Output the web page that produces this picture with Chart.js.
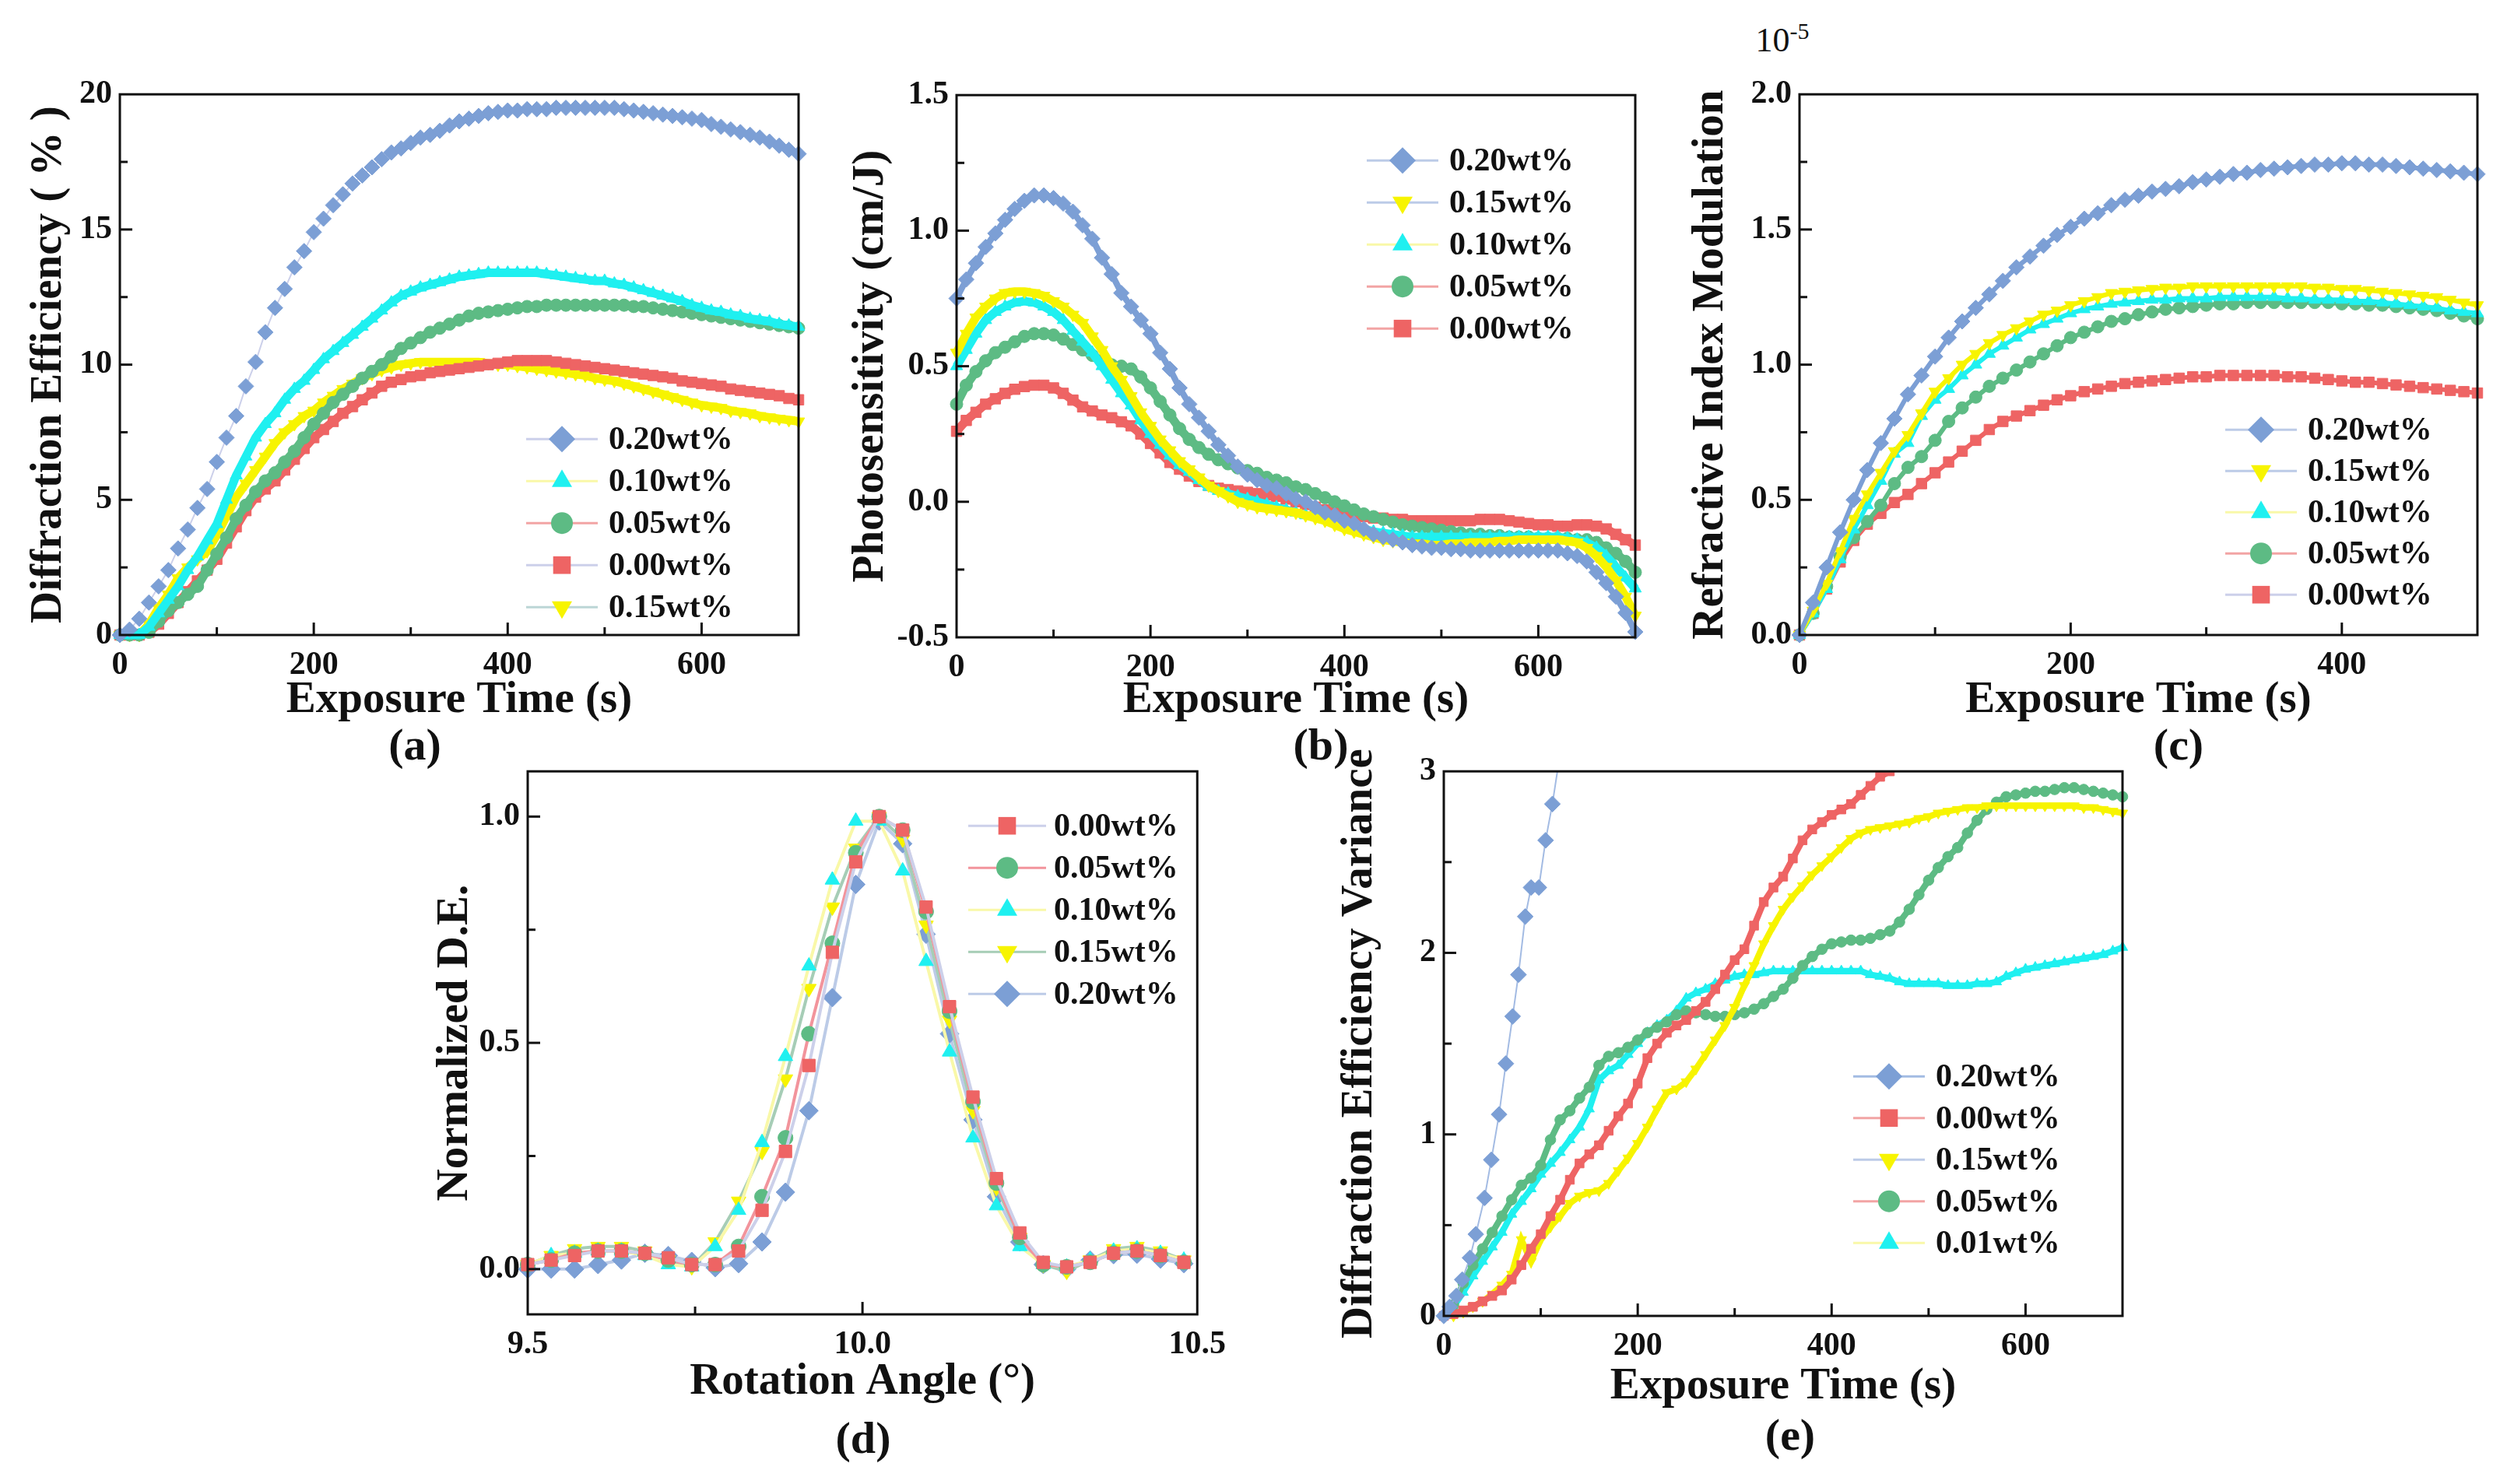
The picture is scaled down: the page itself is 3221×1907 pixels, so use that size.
<!DOCTYPE html>
<html>
<head>
<meta charset="utf-8">
<script src="https://cdn.jsdelivr.net/npm/chart.js@4.4.1/dist/chart.umd.min.js"></script>
<style>
  html, body { margin: 0; padding: 0; background: #fff; }
  #page { position: relative; width: 3221px; height: 1907px; overflow: hidden; background: #fff;
          font-family: 'Liberation Serif', serif; font-weight: bold; color: #111; }
  #page canvas { position: absolute; }
  .tag { position: absolute; font-size: 58px; transform: translate(-50%, -50%); white-space: nowrap; }
  .exp { position: absolute; font-size: 44px; font-weight: normal; transform: translate(-50%, -50%); white-space: nowrap; }
  .exp sup { font-size: 30px; }
</style>
</head>
<body>
<div id="page">
  <div class="tag" style="left:533px;top:956px">(a)</div>
  <div class="tag" style="left:1697px;top:956px">(b)</div>
  <div class="tag" style="left:2799px;top:956px">(c)</div>
  <div class="tag" style="left:1109px;top:1847px">(d)</div>
  <div class="tag" style="left:2300px;top:1843px">(e)</div>
  <div class="exp" style="left:2290px;top:50px">10<sup>-5</sup></div>
</div>
<script>
// sampling times (s)
const T10 = [0,10,20,30,40,50,60,70,80,90,100,110,120,130,140,150,160,170,180,190,
  200,210,220,230,240,250,260,270,280,290,300,310,320,330,340,350,360,370,380,390,
  400,410,420,430,440,450,460,470,480,490,500,510,520,530,540,550,560,570,580,590,
  600,610,620,630,640,650,660,670,680,690,700];

// (a) diffraction efficiency (%)
const a20 = [0,0.2,0.6,1.2,1.8,2.4,3.2,3.9,4.7,5.4,
  6.4,7.3,8.1,9.2,10.1,11.2,12.1,12.8,13.6,14.2,
  14.9,15.4,15.9,16.3,16.7,17.0,17.3,17.6,17.85,18.0,
  18.2,18.4,18.5,18.65,18.85,19.0,19.1,19.2,19.3,19.35,
  19.4,19.4,19.45,19.45,19.45,19.5,19.5,19.5,19.5,19.5,
  19.5,19.5,19.45,19.4,19.35,19.3,19.25,19.2,19.15,19.1,
  19.05,18.9,18.8,18.7,18.6,18.5,18.4,18.25,18.1,17.95,17.8];
const a10 = [0,0,0,0.3,0.8,1.3,1.8,2.4,2.9,3.5,
  4.1,5.0,5.9,6.6,7.3,7.8,8.2,8.7,9.1,9.4,
  9.8,10.2,10.5,10.8,11.1,11.4,11.7,12.0,12.3,12.55,
  12.7,12.85,12.95,13.05,13.15,13.25,13.3,13.35,13.4,13.4,
  13.4,13.4,13.4,13.4,13.35,13.3,13.25,13.2,13.15,13.1,
  13.1,13.0,12.95,12.85,12.75,12.65,12.55,12.45,12.35,12.2,
  12.1,12.0,11.95,11.85,11.8,11.7,11.65,11.6,11.5,11.45,11.4];
const a05 = [0,0,0,0.1,0.5,0.9,1.2,1.5,1.8,2.4,
  3.0,3.6,4.3,4.8,5.3,5.7,6.0,6.4,6.8,7.3,
  7.8,8.2,8.6,8.9,9.2,9.5,9.75,10.0,10.3,10.6,
  10.8,11.0,11.2,11.35,11.5,11.65,11.8,11.9,11.95,12.0,
  12.05,12.1,12.15,12.15,12.2,12.2,12.2,12.2,12.2,12.2,
  12.2,12.2,12.2,12.15,12.15,12.1,12.05,12.0,11.95,11.9,
  11.85,11.8,11.75,11.7,11.65,11.6,11.55,11.5,11.45,11.4,11.35];
const a00 = [0,0,0,0.1,0.4,0.8,1.2,1.6,2.0,2.4,
  2.8,3.4,4.0,4.6,5.1,5.4,5.7,6.1,6.5,6.9,
  7.3,7.6,7.9,8.2,8.45,8.7,8.95,9.2,9.35,9.45,
  9.55,9.6,9.7,9.75,9.8,9.85,9.9,9.95,10.0,10.05,
  10.1,10.15,10.15,10.15,10.15,10.1,10.05,10.0,9.95,9.9,
  9.85,9.8,9.75,9.7,9.65,9.6,9.55,9.5,9.4,9.35,
  9.3,9.25,9.2,9.1,9.05,9.0,8.95,8.9,8.85,8.75,8.7];
const a15 = [0,0,0,0.4,1.0,1.5,2.1,2.5,2.8,3.1,
  3.7,4.4,5.1,5.6,6.1,6.6,7.1,7.5,7.8,8.1,
  8.3,8.6,8.85,9.1,9.3,9.5,9.65,9.8,9.9,10.0,
  10.05,10.1,10.1,10.1,10.1,10.1,10.1,10.1,10.05,10.0,
  10.0,9.95,9.9,9.85,9.8,9.75,9.7,9.65,9.6,9.5,
  9.45,9.4,9.3,9.2,9.1,9.0,8.9,8.8,8.7,8.6,
  8.5,8.45,8.4,8.3,8.25,8.2,8.1,8.05,8.0,7.95,7.9];

// (b) photosensitivity (cm/J)
const b20 = [0.75,0.82,0.88,0.94,0.99,1.04,1.08,1.11,1.13,1.13,
  1.12,1.10,1.07,1.02,0.97,0.90,0.84,0.77,0.72,0.67,
  0.62,0.55,0.49,0.42,0.36,0.31,0.26,0.21,0.17,0.13,
  0.10,0.08,0.06,0.05,0.03,0.01,0.0,-0.02,-0.04,-0.05,
  -0.07,-0.08,-0.1,-0.12,-0.13,-0.14,-0.15,-0.16,-0.165,-0.17,
  -0.17,-0.175,-0.175,-0.18,-0.18,-0.18,-0.18,-0.18,-0.18,-0.18,
  -0.18,-0.18,-0.18,-0.19,-0.2,-0.22,-0.26,-0.3,-0.35,-0.41,-0.48];
const b15 = [0.55,0.62,0.68,0.72,0.75,0.77,0.775,0.775,0.77,0.76,
  0.74,0.72,0.69,0.66,0.61,0.56,0.50,0.45,0.39,0.33,
  0.28,0.23,0.19,0.15,0.12,0.09,0.06,0.04,0.02,0.0,
  -0.01,-0.02,-0.025,-0.03,-0.035,-0.04,-0.05,-0.06,-0.07,-0.085,
  -0.1,-0.11,-0.12,-0.13,-0.14,-0.145,-0.15,-0.155,-0.155,-0.16,
  -0.16,-0.155,-0.155,-0.15,-0.15,-0.15,-0.145,-0.145,-0.14,-0.14,
  -0.14,-0.14,-0.14,-0.145,-0.15,-0.17,-0.2,-0.24,-0.29,-0.35,-0.42];
const b10 = [0.5,0.56,0.62,0.67,0.70,0.72,0.735,0.74,0.735,0.72,
  0.70,0.67,0.63,0.59,0.55,0.50,0.45,0.40,0.355,0.30,
  0.25,0.21,0.17,0.135,0.11,0.08,0.055,0.04,0.03,0.02,
  0.01,0.0,-0.01,-0.02,-0.03,-0.04,-0.05,-0.055,-0.065,-0.075,
  -0.085,-0.095,-0.1,-0.11,-0.115,-0.12,-0.125,-0.13,-0.13,-0.13,
  -0.13,-0.13,-0.13,-0.13,-0.13,-0.13,-0.13,-0.13,-0.13,-0.13,
  -0.13,-0.13,-0.13,-0.135,-0.14,-0.15,-0.17,-0.2,-0.24,-0.28,-0.32];
const b05 = [0.36,0.43,0.48,0.52,0.55,0.57,0.59,0.61,0.62,0.62,
  0.615,0.60,0.58,0.56,0.54,0.52,0.505,0.50,0.49,0.46,
  0.42,0.37,0.32,0.27,0.23,0.20,0.175,0.155,0.14,0.125,
  0.115,0.105,0.09,0.08,0.07,0.055,0.045,0.03,0.015,0.0,
  -0.015,-0.03,-0.045,-0.055,-0.065,-0.075,-0.085,-0.09,-0.095,-0.1,
  -0.105,-0.11,-0.115,-0.12,-0.12,-0.125,-0.125,-0.13,-0.13,-0.13,
  -0.135,-0.135,-0.135,-0.135,-0.14,-0.14,-0.15,-0.17,-0.19,-0.22,-0.26];
const b00 = [0.26,0.30,0.33,0.36,0.38,0.40,0.415,0.425,0.43,0.43,
  0.42,0.40,0.375,0.35,0.335,0.32,0.31,0.295,0.28,0.25,
  0.215,0.18,0.145,0.12,0.095,0.075,0.06,0.05,0.045,0.04,
  0.035,0.03,0.025,0.02,0.01,0.0,-0.01,-0.02,-0.03,-0.04,
  -0.045,-0.05,-0.055,-0.06,-0.06,-0.065,-0.065,-0.07,-0.07,-0.07,
  -0.07,-0.07,-0.07,-0.07,-0.065,-0.065,-0.065,-0.07,-0.075,-0.08,
  -0.085,-0.085,-0.09,-0.09,-0.085,-0.085,-0.09,-0.1,-0.12,-0.14,-0.16];

// (c) refractive index modulation (x 1e-5), 0..500 s
const c20 = [0,0.12,0.25,0.38,0.5,0.61,0.71,0.8,0.89,0.96,
  1.03,1.1,1.16,1.21,1.26,1.31,1.36,1.40,1.44,1.48,
  1.51,1.54,1.56,1.59,1.61,1.625,1.64,1.65,1.66,1.675,
  1.685,1.695,1.705,1.71,1.72,1.725,1.73,1.735,1.74,1.74,
  1.745,1.745,1.74,1.74,1.735,1.73,1.725,1.72,1.715,1.71,1.705];
const c15 = [0,0.09,0.19,0.31,0.43,0.52,0.6,0.68,0.74,0.82,
  0.9,0.95,1.0,1.04,1.08,1.11,1.135,1.16,1.185,1.2,
  1.22,1.235,1.25,1.265,1.27,1.275,1.28,1.285,1.285,1.29,
  1.29,1.29,1.29,1.29,1.29,1.29,1.29,1.29,1.285,1.285,
  1.28,1.28,1.275,1.27,1.265,1.26,1.255,1.25,1.24,1.23,1.22];
const c10 = [0,0.08,0.17,0.28,0.39,0.48,0.57,0.67,0.71,0.81,
  0.87,0.91,0.96,1.0,1.04,1.07,1.1,1.13,1.15,1.17,
  1.19,1.205,1.215,1.225,1.23,1.235,1.24,1.24,1.245,1.245,
  1.245,1.25,1.25,1.25,1.25,1.25,1.245,1.245,1.24,1.24,
  1.24,1.235,1.235,1.23,1.225,1.22,1.215,1.21,1.2,1.195,1.19];
const c05 = [0,0.08,0.18,0.29,0.36,0.42,0.48,0.56,0.62,0.66,
  0.72,0.79,0.84,0.88,0.92,0.95,0.98,1.01,1.04,1.07,
  1.1,1.12,1.14,1.16,1.17,1.185,1.195,1.205,1.21,1.215,
  1.22,1.225,1.225,1.23,1.23,1.23,1.23,1.23,1.23,1.23,
  1.225,1.225,1.22,1.22,1.215,1.21,1.205,1.2,1.19,1.18,1.17];
const c00 = [0,0.08,0.17,0.27,0.35,0.41,0.45,0.49,0.52,0.56,
  0.6,0.64,0.68,0.72,0.76,0.79,0.81,0.83,0.85,0.87,
  0.885,0.9,0.91,0.92,0.93,0.935,0.94,0.945,0.95,0.955,
  0.955,0.96,0.96,0.96,0.96,0.96,0.955,0.955,0.95,0.945,
  0.94,0.935,0.935,0.93,0.925,0.92,0.915,0.91,0.905,0.9,0.895];

// (d) normalized D.E. vs rotation angle (deg)
const ANGLE = [9.5,9.535,9.57,9.605,9.64,9.675,9.71,9.745,9.78,9.815,9.85,9.885,9.92,9.955,9.99,
  10.025,10.06,10.095,10.13,10.165,10.2,10.235,10.27,10.305,10.34,10.375,10.41,10.445,10.48];
const d00 = [0.01,0.02,0.03,0.04,0.04,0.035,0.025,0.01,0.01,0.04,0.13,0.26,0.45,0.7,0.9,
  1.0,0.97,0.8,0.58,0.38,0.2,0.08,0.015,0.005,0.015,0.035,0.04,0.03,0.015];
const d05 = [0.01,0.02,0.035,0.04,0.04,0.035,0.02,0.01,0.01,0.05,0.16,0.29,0.52,0.72,0.92,
  1.0,0.97,0.79,0.57,0.37,0.19,0.07,0.01,0.005,0.015,0.035,0.04,0.03,0.015];
const d10 = [0.01,0.03,0.035,0.04,0.04,0.03,0.01,0.005,0.05,0.13,0.28,0.47,0.67,0.86,0.99,
  0.99,0.88,0.68,0.48,0.29,0.14,0.05,0.01,0.005,0.02,0.04,0.045,0.035,0.02];
const d15 = [0.01,0.03,0.045,0.05,0.05,0.04,0.02,0.005,0.06,0.15,0.26,0.42,0.62,0.8,0.93,
  1.0,0.95,0.76,0.55,0.35,0.18,0.07,0.01,-0.005,0.02,0.045,0.05,0.04,0.02];
const d20 = [0,0,0,0.01,0.02,0.035,0.03,0.017,0.003,0.012,0.06,0.17,0.35,0.6,0.85,
  0.99,0.94,0.74,0.52,0.33,0.16,0.06,0.01,0,0.02,0.032,0.033,0.022,0.012];

// (e) diffraction efficiency variance
const e20t = [0,6,13,19,27,33,42,49,57,64,71,77,84,90,98,105,112,120];
const e20 = [0,0.05,0.11,0.2,0.32,0.45,0.65,0.86,1.11,1.39,1.65,1.88,2.2,2.36,2.36,2.62,2.82,3.1];
const e00 = [0,0.01,0.03,0.05,0.08,0.11,0.14,0.2,0.28,0.37,
  0.45,0.55,0.64,0.75,0.84,0.89,0.94,1.02,1.1,1.17,
  1.28,1.42,1.5,1.56,1.6,1.63,1.68,1.73,1.8,1.88,
  1.96,2.02,2.15,2.28,2.36,2.42,2.52,2.62,2.68,2.72,
  2.76,2.79,2.82,2.87,2.92,2.97,3.0,3.05,3.1];
const e15 = [0,0,0.02,0.05,0.08,0.12,0.17,0.23,0.42,0.3,
  0.42,0.49,0.55,0.62,0.66,0.68,0.69,0.73,0.8,0.87,
  0.95,1.04,1.14,1.23,1.25,1.29,1.36,1.44,1.52,1.6,
  1.7,1.82,1.93,2.05,2.15,2.24,2.31,2.37,2.43,2.48,
  2.53,2.58,2.63,2.66,2.68,2.69,2.7,2.71,2.72,2.74,
  2.75,2.77,2.78,2.79,2.8,2.8,2.81,2.81,2.81,2.81,
  2.81,2.81,2.81,2.81,2.81,2.81,2.8,2.8,2.79,2.78,2.77];
const e05 = [0,0.06,0.18,0.28,0.37,0.46,0.55,0.64,0.72,0.76,
  0.83,0.97,1.08,1.13,1.2,1.26,1.38,1.43,1.45,1.48,
  1.52,1.56,1.59,1.62,1.66,1.68,1.67,1.66,1.65,1.65,
  1.66,1.67,1.69,1.72,1.76,1.8,1.86,1.93,1.98,2.02,
  2.05,2.06,2.07,2.07,2.08,2.1,2.12,2.17,2.24,2.32,
  2.4,2.47,2.53,2.58,2.66,2.73,2.79,2.83,2.86,2.87,
  2.88,2.89,2.89,2.9,2.91,2.91,2.9,2.89,2.88,2.87,2.86];
const e01 = [0,0.05,0.13,0.22,0.3,0.38,0.46,0.56,0.63,0.7,
  0.78,0.84,0.9,0.97,1.04,1.14,1.3,1.35,1.38,1.44,
  1.5,1.56,1.6,1.63,1.68,1.75,1.78,1.8,1.83,1.85,
  1.87,1.88,1.88,1.89,1.9,1.9,1.9,1.9,1.9,1.9,
  1.9,1.9,1.9,1.9,1.88,1.87,1.86,1.84,1.83,1.83,
  1.83,1.83,1.82,1.82,1.82,1.83,1.83,1.84,1.87,1.89,
  1.91,1.92,1.93,1.94,1.95,1.96,1.97,1.98,1.99,2.01,2.03];

// tick values
const ticksA_x = [0,200,400,600], ticksA_y = [0,5,10,15,20];
const ticksB_x = [0,200,400,600], ticksB_y = [-0.5,0,0.5,1,1.5];
const ticksC_x = [0,200,400], ticksC_y = [0,0.5,1,1.5,2];
const ticksD_x = [9.5,10,10.5], ticksD_y = [0,0.5,1];
const ticksE_x = [0,200,400,600], ticksE_y = [0,1,2,3];

const BLUE = '#7c9fd5', CYAN = '#1ff0f0', GREEN = '#5dbb84', RED = '#ee6464', YELLOW = '#f7f400';
const L_BLUE = '#bccbe7', L_LAV = '#ccd0ea', L_YEL = '#f9f8a8', L_PINK = '#f2a4a4', L_GREY = '#bcd6d6', L_GRN = '#a6cdb6';

const STYLE = {
  '0.20wt%': { color: BLUE, shape: 'rectRot', rot: 0 },
  '0.15wt%': { color: YELLOW, shape: 'triangle', rot: 180 },
  '0.10wt%': { color: CYAN, shape: 'triangle', rot: 0 },
  '0.01wt%': { color: CYAN, shape: 'triangle', rot: 0 },
  '0.05wt%': { color: GREEN, shape: 'circle', rot: 0 },
  '0.00wt%': { color: RED, shape: 'rect', rot: 0 }
};
const RAD = { rectRot: 10, triangle: 9, circle: 8, rect: 9.5 };
const LEG_RAD = { rectRot: 17, triangle: 15, circle: 14, rect: 16 };

const FONT = 'Liberation Serif';
const TICK_SIZE = 42, TITLE_SIZE = 57;

function marker(ctx, shape, rot, x, y, r) {
  ctx.beginPath();
  if (shape === 'circle') {
    ctx.arc(x, y, r, 0, Math.PI * 2);
  } else if (shape === 'rect') {
    const s = r * Math.SQRT1_2;
    ctx.rect(x - s, y - s, 2 * s, 2 * s);
  } else if (shape === 'rectRot') {
    ctx.moveTo(x, y - r); ctx.lineTo(x + r, y); ctx.lineTo(x, y + r); ctx.lineTo(x - r, y);
  } else {
    let a = rot * Math.PI / 180;
    for (let k = 0; k < 3; k++) {
      const px = x + Math.sin(a) * r, py = y - Math.cos(a) * r;
      if (k === 0) ctx.moveTo(px, py); else ctx.lineTo(px, py);
      a += Math.PI * 2 / 3;
    }
  }
  ctx.closePath();
  ctx.fill();
}

// box frame + inward major/minor ticks
const framePlugin = {
  id: 'frame',
  afterDatasetsDraw(chart) {
    const { ctx, chartArea: a, scales } = chart;
    ctx.save();
    ctx.strokeStyle = '#111';
    ctx.lineWidth = 3;
    ctx.strokeRect(a.left, a.top, a.right - a.left, a.bottom - a.top);
    const inward = (scale, horiz) => {
      const vals = scale.ticks.map(t => t.value);
      const half = (vals[1] - vals[0]) / 2;
      for (let k = -2; k < 40; k++) {
        const v = vals[0] + k * half;
        if (v >= scale.max - 1e-9) break;
        if (v <= scale.min + 1e-9) continue;
        const len = Math.abs(k) % 2 === 0 ? 16 : 10;
        const p = scale.getPixelForValue(v);
        ctx.beginPath();
        if (horiz) { ctx.moveTo(p, a.bottom); ctx.lineTo(p, a.bottom - len); }
        else { ctx.moveTo(a.left, p); ctx.lineTo(a.left + len, p); }
        ctx.stroke();
      }
    };
    inward(scales.x, true);
    inward(scales.y, false);
    ctx.restore();
  }
};

const legendPlugin = {
  id: 'innerLegend',
  afterDatasetsDraw(chart, args, opts) {
    const { ctx, chartArea: a } = chart;
    ctx.save();
    chart.data.datasets.forEach((ds, i) => {
      const cx = a.left + opts.x, cy = a.top + opts.y + i * opts.gap;
      ctx.strokeStyle = ds.legendLine;
      ctx.lineWidth = 3;
      ctx.beginPath();
      ctx.moveTo(cx - opts.len / 2, cy); ctx.lineTo(cx + opts.len / 2, cy);
      ctx.stroke();
      ctx.fillStyle = ds.pointBackgroundColor;
      marker(ctx, ds.pointStyle, ds.pointRotation, cx, cy, LEG_RAD[ds.pointStyle]);
      ctx.fillStyle = '#111';
      ctx.font = `bold ${TICK_SIZE}px '${FONT}'`;
      ctx.textBaseline = 'middle';
      ctx.textAlign = 'left';
      ctx.fillText(ds.label, cx + 60, cy + 2);
    });
    ctx.restore();
  }
};

const page = document.getElementById('page');

function makeChart(cfg) {
  const [L, T, R, B] = cfg.plot;
  const padL = 220, padT = 30, padR = 40, padB = 200;
  const w = R - L + padL + padR, h = B - T + padT + padB;
  const cv = document.createElement('canvas');
  cv.width = w; cv.height = h;
  cv.style.left = (L - padL) + 'px';
  cv.style.top = (T - padT) + 'px';
  cv.style.width = w + 'px';
  cv.style.height = h + 'px';
  page.appendChild(cv);
  const half = TITLE_SIZE * 1.2 / 2;
  const tickFont = { family: FONT, size: TICK_SIZE, weight: 'bold' };
  const titleFont = { family: FONT, size: TITLE_SIZE, weight: 'bold' };
  const ms = cfg.markerScale || 1;

  new Chart(cv, {
    type: 'line',
    data: {
      datasets: cfg.series.map(s => {
        const st = STYLE[s.label];
        // dense series: markers overlap into a band of the marker colour
        const band = s.band !== undefined ? s.band : cfg.band;
        return {
          label: s.label,
          data: s.y.map((v, i) => ({ x: s.x[i], y: v })),
          legendLine: s.line,
          borderColor: band ? st.color : s.line,
          borderWidth: band || s.width || cfg.lineWidth,
          pointStyle: st.shape,
          pointRotation: st.rot,
          pointRadius: (s.r || RAD[st.shape]) * ms,
          pointHoverRadius: (s.r || RAD[st.shape]) * ms,
          pointBackgroundColor: st.color,
          pointBorderColor: st.color,
          pointBorderWidth: 1,
          tension: 0,
          clip: cfg.clip
        };
      })
    },
    options: {
      responsive: false,
      animation: false,
      devicePixelRatio: 1,
      layout: { padding: { left: 0, top: padT, right: padR, bottom: 0 } },
      plugins: {
        legend: { display: false },
        tooltip: { enabled: false },
        innerLegend: cfg.legend
      },
      scales: {
        x: {
          type: 'linear',
          min: cfg.xRange[0], max: cfg.xRange[1],
          afterFit: s => { s.height = padB; },
          afterBuildTicks: s => { s.ticks = cfg.xTicks.map(v => ({ value: v })); },
          grid: { display: false, drawTicks: false },
          border: { display: false },
          ticks: { autoSkip: false, maxRotation: 0, padding: 14, color: '#111', font: tickFont,
                   callback: v => cfg.xFmt(v) },
          title: { display: true, text: cfg.xTitle, color: '#111', font: titleFont,
                   padding: { top: 0, bottom: B + padB - half - cfg.xTitleY } }
        },
        y: {
          type: 'linear',
          min: cfg.yRange[0], max: cfg.yRange[1],
          afterFit: s => { s.width = padL; },
          afterBuildTicks: s => { s.ticks = cfg.yTicks.map(v => ({ value: v })); },
          grid: { display: false, drawTicks: false },
          border: { display: false },
          ticks: { autoSkip: false, padding: 10, color: '#111', font: tickFont,
                   callback: v => cfg.yFmt(v) },
          title: { display: true, text: cfg.yTitle, color: '#111', font: titleFont,
                   padding: { top: cfg.yTitleX - (L - padL) - half, bottom: 0 } }
        }
      }
    },
    plugins: [framePlugin, legendPlugin]
  });
}

const int = v => String(Math.round(v));
const one = v => (Math.abs(v) < 1e-9 ? 0 : v).toFixed(1);
const noClip = { left: 30, right: 30, top: 30, bottom: 30 };

makeChart({
  plot: [154, 116, 1026, 816], yTitleX: 63, xTitleY: 900,
  xRange: [0, 700], yRange: [0, 20], xTicks: ticksA_x, yTicks: ticksA_y, xFmt: int, yFmt: int,
  xTitle: 'Exposure Time (s)', yTitle: 'Diffraction Efficiency ( % )',
  lineWidth: 2, band: 11, clip: noClip,
  legend: { x: 568, y: 443, gap: 54, len: 92 },
  series: [
    { label: '0.20wt%', x: T10, y: a20, line: L_LAV, band: 0 },
    { label: '0.10wt%', x: T10, y: a10, line: L_YEL },
    { label: '0.05wt%', x: T10, y: a05, line: L_PINK },
    { label: '0.00wt%', x: T10, y: a00, line: L_LAV },
    { label: '0.15wt%', x: T10, y: a15, line: L_GREY }
  ]
});

makeChart({
  plot: [1229, 117, 2101, 819], yTitleX: 1119, xTitleY: 900,
  xRange: [0, 700], yRange: [-0.5, 1.5], xTicks: ticksB_x, yTicks: ticksB_y, xFmt: int, yFmt: one,
  xTitle: 'Exposure Time (s)', yTitle: 'Photosensitivity (cm/J)',
  lineWidth: 2, band: 11, clip: noClip,
  legend: { x: 573, y: 84, gap: 54, len: 92 },
  series: [
    { label: '0.20wt%', x: T10, y: b20, line: L_BLUE, band: 8 },
    { label: '0.15wt%', x: T10, y: b15, line: L_BLUE },
    { label: '0.10wt%', x: T10, y: b10, line: L_YEL },
    { label: '0.05wt%', x: T10, y: b05, line: L_PINK },
    { label: '0.00wt%', x: T10, y: b00, line: L_PINK }
  ]
});

makeChart({
  plot: [2312, 116, 3183, 816], yTitleX: 2198, xTitleY: 900,
  xRange: [0, 500], yRange: [0, 2], xTicks: ticksC_x, yTicks: ticksC_y, xFmt: int, yFmt: one,
  xTitle: 'Exposure Time (s)', yTitle: 'Refractive Index Modulation',
  lineWidth: 2, band: 6, clip: noClip,
  legend: { x: 593, y: 431, gap: 53, len: 92 },
  series: [
    { label: '0.20wt%', x: T10, y: c20, line: L_BLUE },
    { label: '0.15wt%', x: T10, y: c15, line: L_BLUE },
    { label: '0.10wt%', x: T10, y: c10, line: L_YEL },
    { label: '0.05wt%', x: T10, y: c05, line: L_PINK },
    { label: '0.00wt%', x: T10, y: c00, line: L_LAV }
  ]
});

makeChart({
  plot: [678, 986, 1549, 1689], yTitleX: 585, xTitleY: 1776,
  xRange: [9.5, 10.5], yRange: [-0.1, 1.1], xTicks: ticksD_x, yTicks: ticksD_y, xFmt: one, yFmt: one,
  xTitle: 'Rotation Angle (°)', yTitle: 'Normalized D.E.',
  lineWidth: 4, markerScale: 1.2, clip: noClip,
  legend: { x: 616, y: 70, gap: 54, len: 100 },
  series: [
    { label: '0.00wt%', x: ANGLE, y: d00, line: L_LAV },
    { label: '0.05wt%', x: ANGLE, y: d05, line: '#f2949c' },
    { label: '0.10wt%', x: ANGLE, y: d10, line: L_YEL },
    { label: '0.15wt%', x: ANGLE, y: d15, line: L_GRN },
    { label: '0.20wt%', x: ANGLE, y: d20, line: L_BLUE }
  ]
});

makeChart({
  plot: [1855, 986, 2727, 1691], yTitleX: 1747, xTitleY: 1782,
  xRange: [0, 700], yRange: [0, 3], xTicks: ticksE_x, yTicks: ticksE_y, xFmt: int, yFmt: int,
  xTitle: 'Exposure Time (s)', yTitle: 'Diffraction Efficiency Variance',
  lineWidth: 2, band: 8, markerScale: 0.85, clip: { left: 30, right: 30, top: 0, bottom: 30 },
  legend: { x: 572, y: 392, gap: 53.5, len: 92 },
  series: [
    { label: '0.20wt%', x: e20t, y: e20, line: '#a3bbe3', r: 12, band: 0 },
    { label: '0.00wt%', x: T10, y: e00, line: L_PINK },
    { label: '0.15wt%', x: T10, y: e15, line: L_BLUE },
    { label: '0.05wt%', x: T10, y: e05, line: L_PINK },
    { label: '0.01wt%', x: T10, y: e01, line: L_YEL }
  ]
});
</script>
</body>
</html>
